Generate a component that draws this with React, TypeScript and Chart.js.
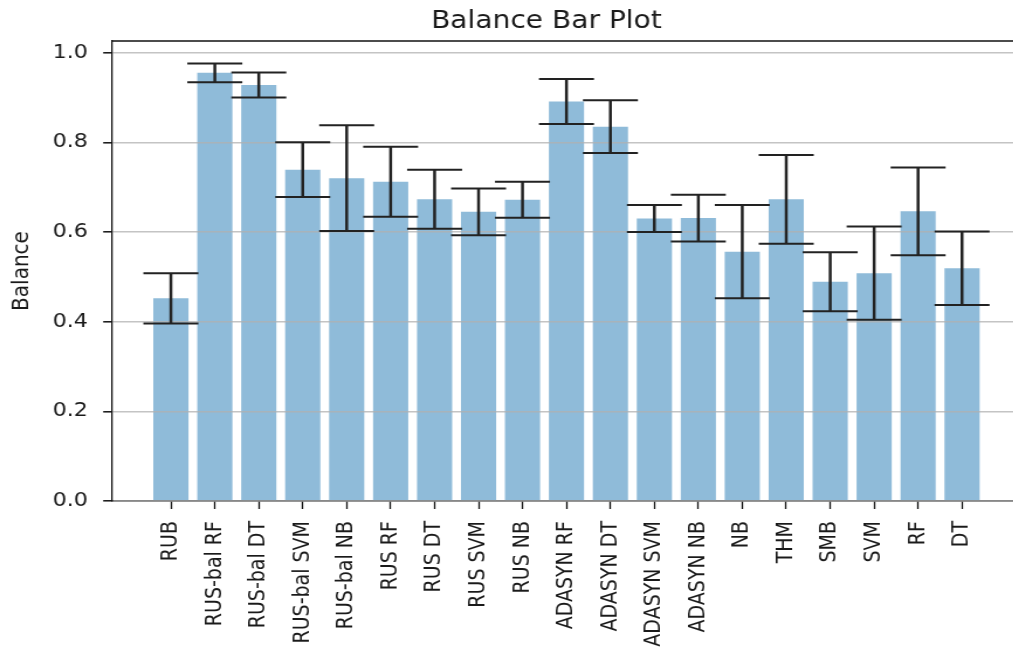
import React, { useEffect, useRef } from "react";
import { Chart, registerables } from "chart.js";

Chart.register(...registerables);

const categories: string[] = [
  "RUB", "RUS-bal RF", "RUS-bal DT", "RUS-bal SVM", "RUS-bal NB", "RUS RF", "RUS DT",
  "RUS SVM", "RUS NB", "ADASYN RF", "ADASYN DT", "ADASYN SVM", "ADASYN NB",
  "NB", "THM", "SMB", "SVM", "RF", "DT",
];
const means: number[] = [
  0.452, 0.955, 0.928, 0.739, 0.720, 0.712, 0.673, 0.645, 0.672, 0.891,
  0.835, 0.630, 0.631, 0.556, 0.673, 0.489, 0.508, 0.646, 0.519,
];
const errors: number[] = [
  0.056, 0.021, 0.028, 0.061, 0.118, 0.078, 0.066, 0.052, 0.040, 0.050,
  0.059, 0.030, 0.052, 0.104, 0.099, 0.066, 0.104, 0.098, 0.082,
];
const yTicks: number[] = [0, 0.2, 0.4, 0.6, 0.8, 1.0];

const S = 1.17; // horizontal stretch of the picture
const CW = 934;
const CH = 662;
const FONT = "'DejaVu Sans', sans-serif";

const errorBarPlugin = {
  id: "errorBars",
  afterDraw(chart: any) {
    const { ctx, scales } = chart;
    const x = scales.x;
    const y = scales.y;
    ctx.save();
    ctx.strokeStyle = "#222222";
    means.forEach((m, i) => {
      const px = x.getPixelForValue(i);
      const top = y.getPixelForValue(m + errors[i]);
      const bot = y.getPixelForValue(m - errors[i]);
      ctx.lineWidth = 2.5;
      ctx.beginPath();
      ctx.moveTo(px, top);
      ctx.lineTo(px, bot);
      ctx.stroke();
      ctx.lineWidth = 2;
      ctx.beginPath();
      ctx.moveTo(px - 23.5, top);
      ctx.lineTo(px + 23.5, top);
      ctx.moveTo(px - 23.5, bot);
      ctx.lineTo(px + 23.5, bot);
      ctx.stroke();
    });
    ctx.restore();
  },
};

const framePlugin = {
  id: "frameTop",
  afterDraw(chart: any) {
    const { ctx } = chart;
    const x = chart.scales.x;
    const y = chart.scales.y;
    ctx.save();
    ctx.strokeStyle = "#111111";
    ctx.lineWidth = 1.5;
    ctx.beginPath();
    ctx.moveTo(x.left, y.top);
    ctx.lineTo(x.right, y.top);
    ctx.stroke();
    ctx.lineWidth = 1.3;
    ctx.beginPath();
    ctx.moveTo(x.right, y.top);
    ctx.lineTo(x.right, y.bottom);
    ctx.stroke();
    ctx.restore();
  },
};

export default function App() {
  const ref = useRef<HTMLCanvasElement | null>(null);

  useEffect(() => {
    if (!ref.current) return;
    const chart = new Chart(ref.current, {
      type: "bar",
      data: {
        datasets: [
          {
            data: means.map((m, i) => ({ x: i, y: m })),
            backgroundColor: "rgba(31,119,180,0.5)",
            borderWidth: 0,
            barPercentage: 0.8,
            categoryPercentage: 1.0,
          },
        ],
      },
      options: {
        animation: false,
        responsive: false,
        devicePixelRatio: 1,
        layout: { padding: 0 },
        plugins: {
          legend: { display: false },
          tooltip: { enabled: false },
          title: {
            display: true,
            text: "Balance Bar Plot",
            color: "#1a1a1a",
            font: { family: FONT, size: 24, weight: "normal" },
            padding: { top: 7, bottom: 5.2 },
          },
        },
        scales: {
          x: {
            type: "linear",
            offset: false,
            min: -1.34,
            max: 19.34,
            afterBuildTicks: (scale: any) => {
              scale.ticks = categories.map((_, i) => ({ value: i }));
            },
            afterFit: (scale: any) => {
              scale.height = 161;
            },
            grid: {
              offset: false,
              drawOnChartArea: false,
              drawTicks: true,
              tickLength: 8,
              tickColor: "#111111",
              tickWidth: 1.3,
            },
            border: { display: true, color: "#111111", width: 1.5 },
            ticks: {
              autoSkip: false,
              minRotation: 90,
              maxRotation: 90,
              padding: 12,
              color: "#1a1a1a",
              font: { family: FONT, size: 19 },
              callback: (v: any) => categories[Math.round(Number(v))] ?? "",
            },
          },
          y: {
            type: "linear",
            min: 0,
            max: 1.026,
            afterBuildTicks: (scale: any) => {
              scale.ticks = yTicks.map((v) => ({ value: v }));
            },
            afterFit: (scale: any) => {
              scale.width = 95.7;
            },
            grid: {
              z: 1,
              color: "rgba(176,176,176,0.75)",
              lineWidth: 1.6,
              drawTicks: true,
              tickLength: 7.5,
              tickColor: "#111111",
              tickWidth: 1.5,
            },
            border: { display: true, color: "#111111", width: 1.3, z: 1 },
            title: {
              display: true,
              text: "Balance",
              color: "#1a1a1a",
              font: { family: FONT, size: 20 },
              padding: { top: 7, bottom: 0 },
            },
            ticks: {
              padding: 13,
              color: "#1a1a1a",
              font: { family: FONT, size: 19 },
              callback: (v: any) => Number(v).toFixed(1),
            },
          },
          yRight: {
            type: "linear",
            position: "right",
            display: true,
            afterFit: (scale: any) => {
              scale.width = 61.4;
            },
            grid: { drawOnChartArea: false, drawTicks: false },
            border: { display: false },
            ticks: { display: false },
          },
        },
      },
      plugins: [errorBarPlugin, framePlugin],
    } as any);
    return () => chart.destroy();
  }, []);

  return (
    <div
      style={{
        position: "fixed",
        left: 0,
        top: 0,
        width: 1013,
        height: 662,
        overflow: "hidden",
        background: "#ffffff",
      }}
    >
      <div
        style={{
          position: "absolute",
          left: 0,
          top: 0,
          width: CW,
          height: CH,
          transform: `scaleX(${S})`,
          transformOrigin: "0 0",
        }}
      >
        <canvas ref={ref} width={CW} height={CH} style={{ width: CW, height: CH, display: "block" }} />
      </div>
    </div>
  );
}
